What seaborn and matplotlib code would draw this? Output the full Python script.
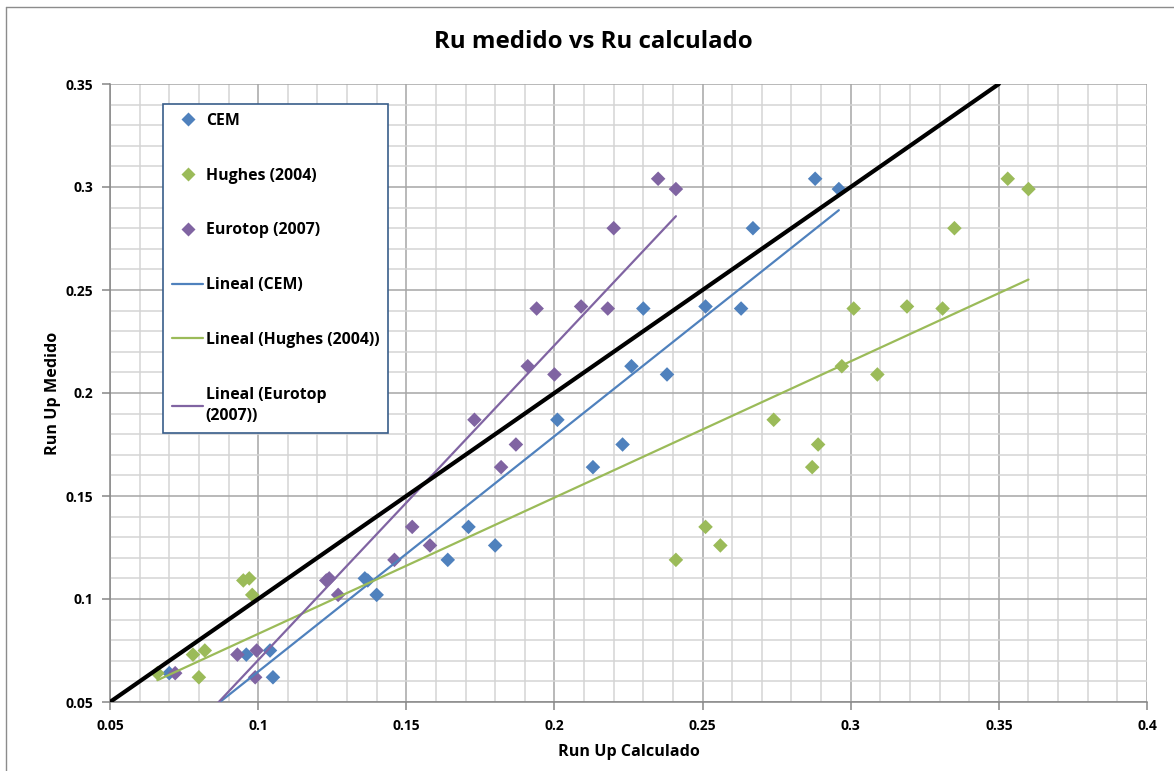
import numpy as np
import pandas as pd
import matplotlib
matplotlib.use("Agg")
import matplotlib.pyplot as plt
from matplotlib.ticker import MultipleLocator, FuncFormatter
from matplotlib.lines import Line2D
import seaborn as sns

# Run-up: calculated (x) vs measured (y) for each formulation
cem_x = [0.288, 0.296, 0.267, 0.251, 0.263, 0.230, 0.226, 0.238, 0.201, 0.223, 0.213,
         0.171, 0.180, 0.164, 0.136, 0.137, 0.140, 0.104, 0.096, 0.105, 0.070]
cem_y = [0.304, 0.299, 0.280, 0.242, 0.241, 0.241, 0.213, 0.209, 0.187, 0.175, 0.164,
         0.135, 0.126, 0.119, 0.110, 0.109, 0.102, 0.075, 0.073, 0.062, 0.064]

hughes_x = [0.353, 0.360, 0.335, 0.319, 0.301, 0.331, 0.297, 0.309, 0.274, 0.289, 0.287,
            0.251, 0.256, 0.241, 0.097, 0.095, 0.098, 0.082, 0.078, 0.080, 0.066]
hughes_y = [0.304, 0.299, 0.280, 0.242, 0.241, 0.241, 0.213, 0.209, 0.187, 0.175, 0.164,
            0.135, 0.126, 0.119, 0.110, 0.109, 0.102, 0.075, 0.073, 0.062, 0.064]

eurotop_x = [0.235, 0.241, 0.220, 0.209, 0.194, 0.218, 0.191, 0.200, 0.173, 0.187, 0.182,
             0.152, 0.158, 0.146, 0.124, 0.123, 0.127, 0.0995, 0.093, 0.099, 0.072]
eurotop_y = [0.304, 0.299, 0.280, 0.242, 0.241, 0.241, 0.213, 0.209, 0.187, 0.175, 0.164,
             0.135, 0.126, 0.119, 0.110, 0.109, 0.102, 0.075, 0.073, 0.062, 0.064]

# perfect agreement line
ref_x = [0.05, 0.35]
ref_y = [0.05, 0.35]

series_names = ["CEM", "Hughes (2004)", "Eurotop (2007)"]
trend_labels = ["Lineal (CEM)", "Lineal (Hughes (2004))", "Lineal (Eurotop\n(2007))"]
colors = {"CEM": "#4F81BD", "Hughes (2004)": "#9BBB59", "Eurotop (2007)": "#8064A2"}

x_ticks = [0.05, 0.1, 0.15, 0.2, 0.25, 0.3, 0.35, 0.4]
y_ticks = [0.05, 0.1, 0.15, 0.2, 0.25, 0.3, 0.35]

df = pd.concat([
    pd.DataFrame({"calc": cem_x, "med": cem_y, "serie": "CEM"}),
    pd.DataFrame({"calc": hughes_x, "med": hughes_y, "serie": "Hughes (2004)"}),
    pd.DataFrame({"calc": eurotop_x, "med": eurotop_y, "serie": "Eurotop (2007)"}),
], ignore_index=True)

sns.set_theme(style="white")
plt.rcParams['font.family'] = ['Open Sans', 'DejaVu Sans']

W, H = 1174, 771
fig = plt.figure(figsize=(W / 100, H / 100), dpi=100)
L, R, T, B = 110, 1147, 84, 702
ax = fig.add_axes([L / W, 1 - B / H, (R - L) / W, (B - T) / H])

# outer chart frame
fig.add_artist(Line2D([6 / W, 6 / W], [0, 1 - 7 / H], transform=fig.transFigure,
                      color="#8c8c8c", lw=1))
fig.add_artist(Line2D([6 / W, 1], [1 - 7 / H, 1 - 7 / H], transform=fig.transFigure,
                      color="#8c8c8c", lw=1))

sns.scatterplot(data=df, x="calc", y="med", hue="serie", palette=colors,
                hue_order=series_names, marker="D", s=55, edgecolor="none",
                legend=False, ax=ax, zorder=3, clip_on=False)

for name in series_names:
    sub = df[df["serie"] == name]
    sns.regplot(data=sub, x="calc", y="med", scatter=False, ci=None, truncate=True,
                color=colors[name], line_kws=dict(lw=1.6, zorder=4), ax=ax)

sns.lineplot(x=ref_x, y=ref_y, color="black", lw=3, ax=ax, zorder=5)

ax.set_xlim(0.05, 0.4)
ax.set_ylim(0.05, 0.35)
ax.set_xticks(x_ticks)
ax.set_yticks(y_ticks)
ax.xaxis.set_minor_locator(MultipleLocator(0.01))
ax.yaxis.set_minor_locator(MultipleLocator(0.01))
fmt = FuncFormatter(lambda v, p: f"{v:g}")
ax.xaxis.set_major_formatter(fmt)
ax.yaxis.set_major_formatter(fmt)

ax.grid(which="major", color="#a6a6a6", lw=1.1, zorder=0)
ax.grid(which="minor", color="#d4d4d4", lw=1.1, zorder=0)
ax.set_axisbelow(True)

for s in ["top", "right"]:
    ax.spines[s].set_visible(False)
for s in ["left", "bottom"]:
    ax.spines[s].set_color("#868686")
    ax.spines[s].set_linewidth(1.1)

ax.tick_params(which="major", direction="out", length=6, width=1.1, color="#868686",
               labelsize=10, pad=6, bottom=True, left=True, labelcolor="black")
ax.tick_params(which="minor", length=0)
for lab in ax.get_xticklabels() + ax.get_yticklabels():
    lab.set_fontweight("bold")

ax.set_xlabel("Run Up Calculado", fontsize=11.6, fontweight="bold", labelpad=8,
              color="black")
ax.set_ylabel("Run Up Medido", fontsize=11.6, fontweight="bold", labelpad=3,
              color="black")
fig.text(593 / W, 1 - 42 / H, "Ru medido vs Ru calculado", fontsize=17.3,
         fontweight="bold", ha="center", va="center", color="black")

handles = [Line2D([], [], ls="none", marker="D", ms=7.2, mec="none", color=colors[n])
           for n in series_names]
handles += [Line2D([], [], color=colors[n], lw=1.6) for n in series_names]
labels = series_names + trend_labels
leg = ax.legend(handles, labels, loc="upper left",
                bbox_to_anchor=((163 - L) / (R - L), (B - 104) / (B - T)),
                frameon=True, fancybox=False, framealpha=1, edgecolor="#385D8A",
                prop=dict(size=11.4, weight="bold"), labelspacing=2.45,
                handlelength=2.0, handletextpad=0.15, borderpad=0.55, borderaxespad=0)
leg.get_frame().set_linewidth(1.2)
leg.set_zorder(10)
for t in leg.get_texts():
    t.set_color("black")
    t.set_linespacing(1.45)

fig.savefig("out.png", dpi=100)
